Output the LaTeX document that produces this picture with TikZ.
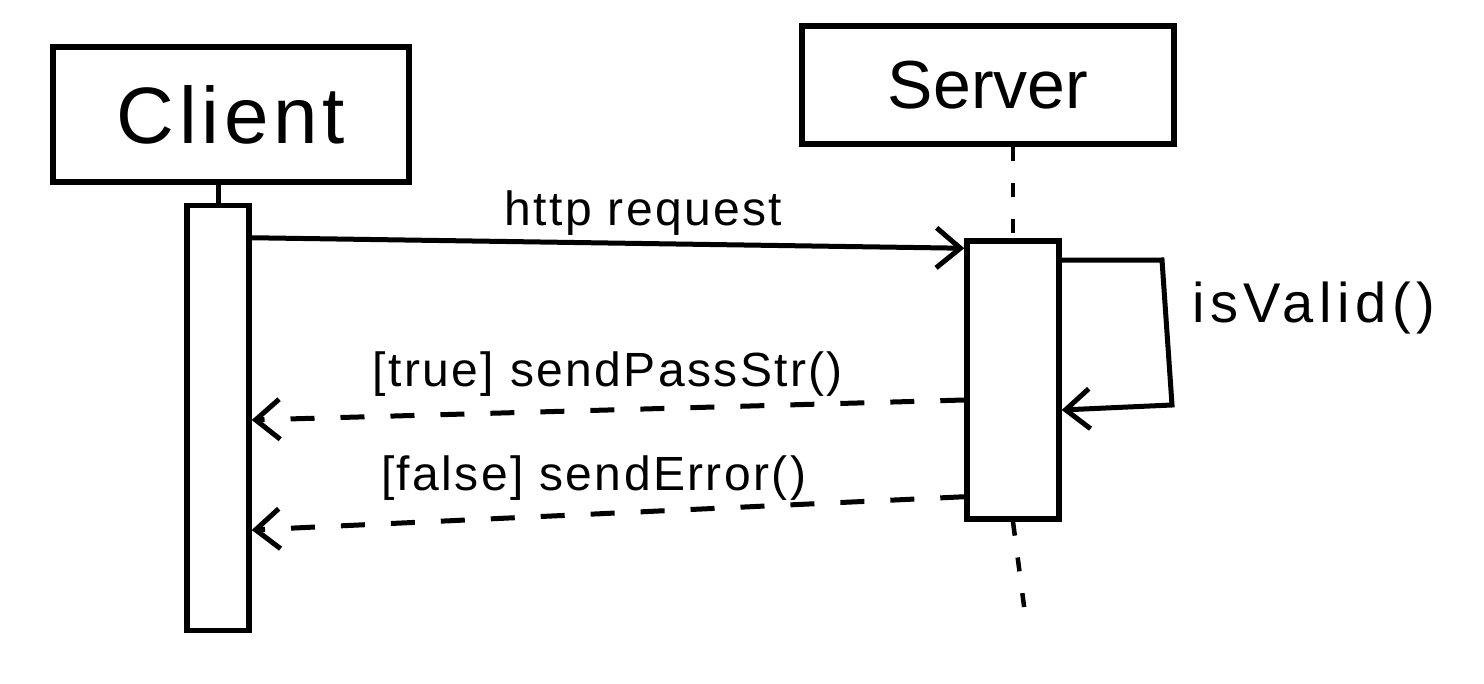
\documentclass[tikz,border=0pt]{standalone}
\usepackage{fontspec}
\setmainfont{Liberation Sans}
\usetikzlibrary{arrows.meta,calc}
\begin{document}
\begin{tikzpicture}[x=1pt,y=-1pt,
  box/.style={draw, line width=6pt, inner sep=0pt},
  act/.style={draw, line width=5.5pt, fill=white, inner sep=0pt},
  msg/.style={line width=5pt, -{Straight Barb[length=24pt,width=40pt,line width=5pt]}},
  ret/.style={msg, dash pattern=on 24pt off 26pt},
  life/.style={line width=4.5pt, dash pattern=on 14pt off 22pt},
  lbl/.style={font=\fontsize{48}{56}\selectfont\addfontfeature{LetterSpace=5}, inner sep=2pt}]
\useasboundingbox (0,0) rectangle (1484,684);
% participants
\node[box, minimum width=356pt, minimum height=135pt,
  font=\fontsize{80}{92}\selectfont\addfontfeature{LetterSpace=6}] (client) at (231,115) {Client};
\node[box, minimum width=372pt, minimum height=118pt,
  font=\fontsize{68}{80}\selectfont] (server) at (988,85) {Server};
% activations
\node[act, minimum width=62pt, minimum height=425pt] (cact) at (218,418) {};
\node[act, minimum width=92pt, minimum height=278pt] (sact) at (1013,380) {};
% lifelines
\draw[line width=5pt] (client.south -| cact.north) -- (cact.north);
\draw[life] (server.south -| sact.north) -- (sact.north);
\draw[life] (sact.south) -- ++(12,92) coordinate (send);
% http request
\coordinate (hs) at ($(cact.north east)+(0,35)$);
\coordinate (he) at ($(sact.north west)+(0,10)$);
\draw[msg] (hs) -- node[lbl, above=4pt, pos=0.55] {http request} (he);
% self call
\coordinate (vs) at ($(sact.north east)+(0,22)$);
\coordinate (vc1) at (1162,260);
\coordinate (vc2) at (1172,405);
\coordinate (ve) at ($(sact.east)+(0,30)$);
\draw[msg] (vs) -- (vc1) -- (vc2) -- (ve);
\node[lbl, anchor=west, font=\fontsize{56}{64}\selectfont\addfontfeature{LetterSpace=10}] (valid) at (1190,308) {isValid()};
% returns
\coordinate (t1) at ($(sact.west)+(0,20)$);
\coordinate (t2) at ($(cact.east)+(0,2)$);
\draw[ret] (t1) -- node[lbl, above=9pt, pos=0.5] {[true] sendPassStr()} (t2);
\coordinate (f1) at ($(sact.south west)+(0,-25)$);
\coordinate (f2) at ($(cact.east)+(0,112)$);
\draw[ret] (f1) -- node[lbl, above=9pt, pos=0.52] {[false] sendError()} (f2);
\end{tikzpicture}
\end{document}
